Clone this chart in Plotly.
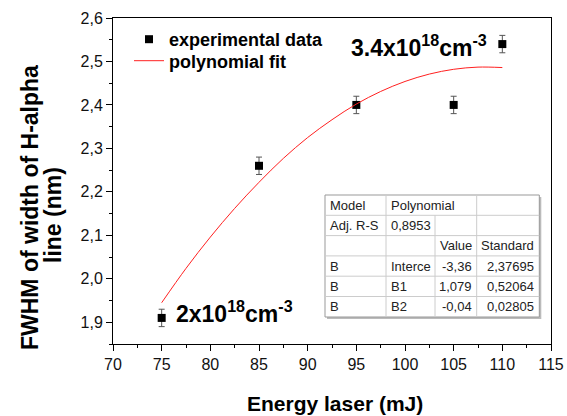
import plotly.graph_objects as go

# ---- data ----
energy = [75, 85, 95, 105, 110]
fwhm = [1.91, 2.26, 2.40, 2.40, 2.54]
fwhm_err = [0.02, 0.02, 0.02, 0.02, 0.02]

fit_x = [75, 77.5, 80, 82.5, 85, 87.5, 90, 92.5, 95, 97.5, 100, 102.5, 105, 107.5, 110]
fit_y = [1.945, 2.024, 2.096, 2.162, 2.222, 2.277, 2.325, 2.366, 2.402, 2.431, 2.454, 2.471, 2.482, 2.487, 2.486]

x_ticks = [70, 75, 80, 85, 90, 95, 100, 105, 110, 115]
y_ticks = [1.9, 2.0, 2.1, 2.2, 2.3, 2.4, 2.5, 2.6]

table_rows = [
    ["Model", "Polynomial", "", ""],
    ["Adj. R-S", "0,8953", "", ""],
    ["", "", "Value", "Standard"],
    ["B", "Interce", "-3,36", "2,37695"],
    ["B", "B1", "1,079", "0,52064"],
    ["B", "B2", "-0,04", "0,02805"],
]

# ---- layout geometry (pixels) ----
W, H = 567, 416
ML, MR, MT, MB = 113, 16, 18, 72
PW = W - ML - MR
PH = H - MT - MB

def px(xp):
    return (xp - ML) / PW

def py(yp):
    return (H - MB - yp) / PH

FONT = "Liberation Sans, Arial, sans-serif"

fig = go.Figure()
fig.add_trace(go.Scatter(
    x=energy, y=fwhm, mode="markers", name="experimental data", legend="legend",
    marker=dict(symbol="square", size=8, color="black"),
    error_y=dict(type="data", array=fwhm_err, visible=True, color="#555555", thickness=1, width=3),
))
fig.add_trace(go.Scatter(
    x=fit_x, y=fit_y, mode="lines", name="polynomial fit", legend="legend2",
    line=dict(color="#ff2020", width=1, shape="spline"),
))

axis_common = dict(
    showgrid=False, zeroline=False, showline=True, mirror=True, automargin=False,
    linecolor="black", linewidth=1, ticks="outside", ticklen=6, tickcolor="black",
    tickfont=dict(family=FONT, size=16, color="#111111"),
)
fig.update_xaxes(range=[70, 115], tickvals=x_ticks, ticktext=[str(v) for v in x_ticks],
                 minor=dict(ticks="outside", ticklen=3, dtick=2.5, tick0=70, tickcolor="black"),
                 **axis_common)
fig.update_yaxes(range=[1.85, 2.6], tickvals=y_ticks,
                 ticktext=[f"{v:.1f}".replace(".", ",") for v in y_ticks],
                 minor=dict(ticks="outside", ticklen=3, dtick=0.05, tick0=1.85, tickcolor="black"),
                 **axis_common)

TITLE_FONT = dict(family=FONT, color="black", weight="bold")
annotations = []
# axis titles
annotations.append(dict(text="Energy laser (mJ)", xref="paper", yref="paper",
                        x=px(335), y=py(403), xanchor="center", yanchor="middle",
                        showarrow=False, font=dict(size=21, **TITLE_FONT)))
annotations.append(dict(text="FWHM of width of H-alpha", xref="paper", yref="paper",
                        x=px(30), y=py(208), xanchor="center", yanchor="middle", textangle=-90,
                        showarrow=False, font=dict(size=23, **TITLE_FONT)))
annotations.append(dict(text="line (nm)", xref="paper", yref="paper",
                        x=px(53), y=py(215), xanchor="center", yanchor="middle", textangle=-90,
                        showarrow=False, font=dict(size=23, **TITLE_FONT)))
# density labels
annotations.append(dict(text="3.4x10<sup>18</sup>cm<sup>-3</sup>", xref="paper", yref="paper",
                        x=px(349), y=py(62.5), xanchor="left", yanchor="bottom",
                        showarrow=False, font=dict(size=23, **TITLE_FONT)))
annotations.append(dict(text="2x10<sup>18</sup>cm<sup>-3</sup>", xref="paper", yref="paper",
                        x=px(174), y=py(328.5), xanchor="left", yanchor="bottom",
                        showarrow=False, font=dict(size=23, **TITLE_FONT)))

# ---- fit table drawn with shapes/annotations ----
col_edges = [325, 386, 435, 476.7, 539.3]
row_edges = [195, 215.3, 235.6, 255.9, 276.2, 296.5, 317]
align = ["left", "left", "right", "right"]
shapes = []
shapes.append(dict(type="rect", xref="paper", yref="paper",
                   x0=px(col_edges[0] + 2), x1=px(col_edges[-1] + 2), y0=py(row_edges[0] + 2), y1=py(row_edges[-1] + 2),
                   fillcolor="#bbbbbb", line=dict(width=0), layer="above"))
shapes.append(dict(type="rect", xref="paper", yref="paper",
                   x0=px(col_edges[0]), x1=px(col_edges[-1]), y0=py(row_edges[0]), y1=py(row_edges[-1]),
                   fillcolor="white", line=dict(color="#999999", width=1), layer="above"))
for yy in row_edges[1:-1]:
    shapes.append(dict(type="line", xref="paper", yref="paper",
                       x0=px(col_edges[0]), x1=px(col_edges[-1]), y0=py(yy), y1=py(yy),
                       line=dict(color="#cccccc", width=1), layer="above"))
for ci, xx in enumerate(col_edges[1:-1], start=1):
    ytop = row_edges[1] if ci == 2 else row_edges[0]
    shapes.append(dict(type="line", xref="paper", yref="paper",
                       x0=px(xx), x1=px(xx), y0=py(ytop), y1=py(row_edges[-1]),
                       line=dict(color="#cccccc", width=1), layer="above"))
for ri, row in enumerate(table_rows):
    yc = (row_edges[ri] + row_edges[ri + 1]) / 2
    for ci, txt in enumerate(row):
        if not txt:
            continue
        if align[ci] == "left":
            xa, xanc = col_edges[ci] + 3, "left"
        else:
            xa, xanc = col_edges[ci + 1] - 3, "right"
        annotations.append(dict(text=txt, xref="paper", yref="paper", x=px(xa), y=py(yc),
                                xanchor=xanc, yanchor="middle", showarrow=False,
                                font=dict(family=FONT, size=13, color="#222222")))

LEG_FONT = dict(family=FONT, size=18, color="black", weight="bold")
fig.update_layout(
    width=W, height=H, margin=dict(l=ML, r=MR, t=MT, b=MB, autoexpand=False),
    paper_bgcolor="white", plot_bgcolor="white",
    separators=", ",
    font=dict(family=FONT, color="black"),
    showlegend=True,
    legend=dict(x=px(129), y=py(21), xanchor="left", yanchor="top",
                bgcolor="rgba(0,0,0,0)", borderwidth=0, font=LEG_FONT),
    legend2=dict(x=px(129), y=py(42.5), xanchor="left", yanchor="top",
                 bgcolor="rgba(0,0,0,0)", borderwidth=0, font=LEG_FONT),
    annotations=annotations, shapes=shapes,
)

fig.write_html("out.html", config={"displayModeBar": False},
               post_script="document.body.style.margin='0px';document.body.style.overflow='hidden';")
